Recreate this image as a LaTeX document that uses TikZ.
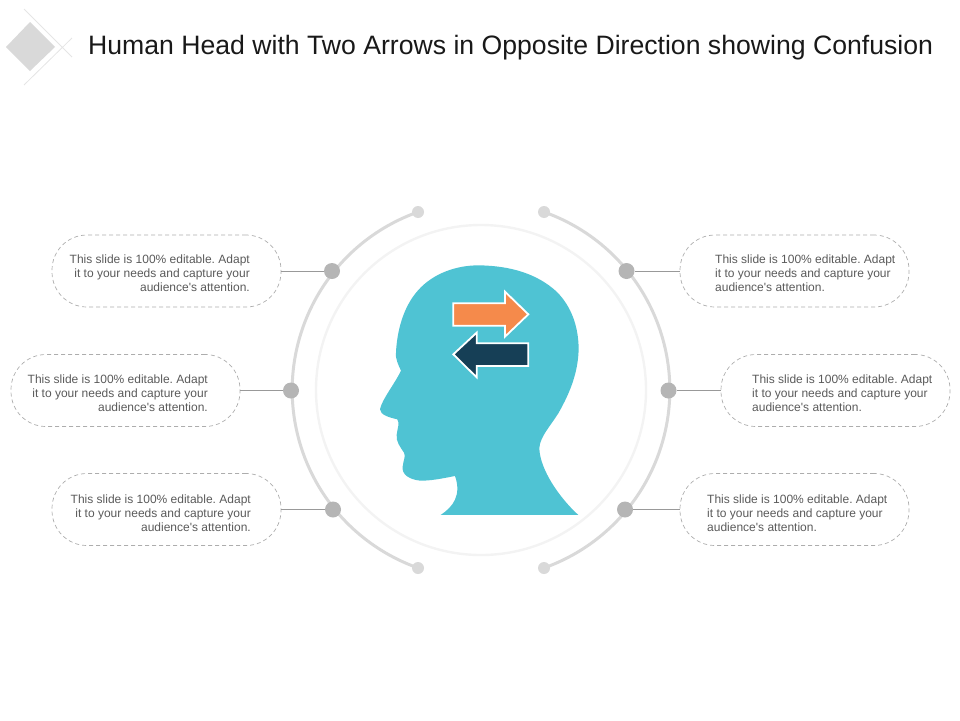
\documentclass[tikz,border=0pt]{standalone}
\usepackage{fontspec}
\setmainfont{Liberation Sans}
\newfontfamily\labfont{Liberation Sans}
\definecolor{teal}{HTML}{4FC3D3}
\definecolor{orng}{HTML}{F58A4B}
\definecolor{navy}{HTML}{163F56}
\definecolor{ringc}{HTML}{D9D9D9}
\definecolor{ringi}{HTML}{F3F3F3}
\definecolor{dotc}{HTML}{B5B5B5}
\definecolor{txt}{HTML}{5A5A5A}
\tikzset{
  pill/.style={draw=black!32,line width=0.7pt,dash pattern=on 4pt off 3pt,rounded corners=35pt,minimum width=229pt,minimum height=72pt,inner sep=0pt},
  bigdot/.style={circle,fill=dotc,minimum size=16pt,inner sep=0pt},
  smalldot/.style={circle,fill=ringc,minimum size=12pt,inner sep=0pt},
  link/.style={draw=black!40,line width=0.8pt},
  ltext/.style={font=\labfont\frenchspacing\fontsize{12}{14}\selectfont,text=txt,align=right,anchor=east,inner sep=0pt},
  rtext/.style={font=\labfont\frenchspacing\fontsize{12}{14}\selectfont,text=txt,align=left,anchor=west,inner sep=0pt},
  arrowbox/.style={draw=white,line width=1.8pt,line join=miter},
}
\begin{document}
\begin{tikzpicture}[x=1pt,y=-1pt]
\useasboundingbox (0,0) rectangle (960,720);
% logo
\fill[ringc] (30,22) -- (55,47) -- (30,71) -- (6,47) -- cycle;
\draw[black!10,line width=0.8pt] (24,9) -- (72,57) (72,38) -- (24,85);
% title
\node[font=\fontsize{26.62}{30}\selectfont,text=black!90,anchor=west,inner sep=0pt] (title) at (88,47.5) {Human Head with Two Arrows in Opposite Direction showing Confusion};
% rings
\draw[ringi,line width=2.4pt] (481,390) circle[radius=165];
\draw[ringc,line width=3pt] (418,212) arc[start angle=-109.5,end angle=-250.5,radius=188.8];
\draw[ringc,line width=3pt] (544,212) arc[start angle=-70.5,end angle=70.5,radius=188.8];
% small dots
\node[smalldot] (s1) at (418,212) {};
\node[smalldot] (s2) at (544,212) {};
\node[smalldot] (s3) at (418,568) {};
\node[smalldot] (s4) at (544,568) {};
% big dots
\node[bigdot] (d1) at (332,271) {};
\node[bigdot] (d2) at (291,390.5) {};
\node[bigdot] (d3) at (333,509.5) {};
\node[bigdot] (d4) at (626.5,271) {};
\node[bigdot] (d5) at (668.5,390.5) {};
\node[bigdot] (d6) at (625,509.5) {};
% pills
\node[pill] (p1) at (166.5,271) {};
\node[pill] (p2) at (125.5,390.5) {};
\node[pill] (p3) at (166.5,509.5) {};
\node[pill] (p4) at (794.5,271) {};
\node[pill] (p5) at (835.5,390.5) {};
\node[pill] (p6) at (794.5,509.5) {};
\draw[link] (p1.east) -- (d1);
\draw[link] (p2.east) -- (d2);
\draw[link] (p3.east) -- (d3);
\draw[link] (p4.west) -- (d4);
\draw[link] (p5.west) -- (d5);
\draw[link] (p6.west) -- (d6);
% texts
\node[ltext] (t1) at (250,273.5) {This slide is 100\% editable. Adapt\\it to your needs and capture your\\audience's attention.};
\node[ltext] (t2) at (208,393) {This slide is 100\% editable. Adapt\\it to your needs and capture your\\audience's attention.};
\node[ltext] (t3) at (251,513) {This slide is 100\% editable. Adapt\\it to your needs and capture your\\audience's attention.};
\node[rtext] (t4) at (715,273.5) {This slide is 100\% editable. Adapt\\it to your needs and capture your\\audience's attention.};
\node[rtext] (t5) at (752,393) {This slide is 100\% editable. Adapt\\it to your needs and capture your\\audience's attention.};
\node[rtext] (t6) at (707,513) {This slide is 100\% editable. Adapt\\it to your needs and capture your\\audience's attention.};
% head
\begin{scope}[shift={(370,250)},x=0.3333pt,y=-0.3333pt]
\fill[teal] (212,795)
  .. controls (250,770) and (275,735) .. (255,678)
  .. controls (220,685) and (180,693) .. (150,692)
  .. controls (115,688) and (95,672) .. (98,650)
  .. controls (100,630) and (108,620) .. (102,608)
  .. controls (90,590) and (78,575) .. (80,555)
  .. controls (82,535) and (90,520) .. (82,508)
  .. controls (60,503) and (30,495) .. (30,478)
  .. controls (35,450) and (75,400) .. (93,362)
  .. controls (85,345) and (75,325) .. (78,305)
  .. controls (82,240) and (100,170) .. (145,120)
  .. controls (190,70) and (260,45) .. (330,46)
  .. controls (420,48) and (500,70) .. (560,125)
  .. controls (605,170) and (625,230) .. (626,295)
  .. controls (625,360) and (605,420) .. (565,490)
  .. controls (540,530) and (510,560) .. (508,595)
  .. controls (510,660) and (570,745) .. (625,795)
  -- cycle;
% arrows
\draw[arrowbox,fill=orng] (250,160) -- (405,160) -- (405,125) -- (475,193) -- (405,260) -- (405,227) -- (250,227) -- cycle;
\draw[arrowbox,fill=navy] (475,280) -- (320,280) -- (320,248) -- (250,313) -- (320,382) -- (320,348) -- (475,348) -- cycle;
\end{scope}
\end{tikzpicture}
\end{document}
